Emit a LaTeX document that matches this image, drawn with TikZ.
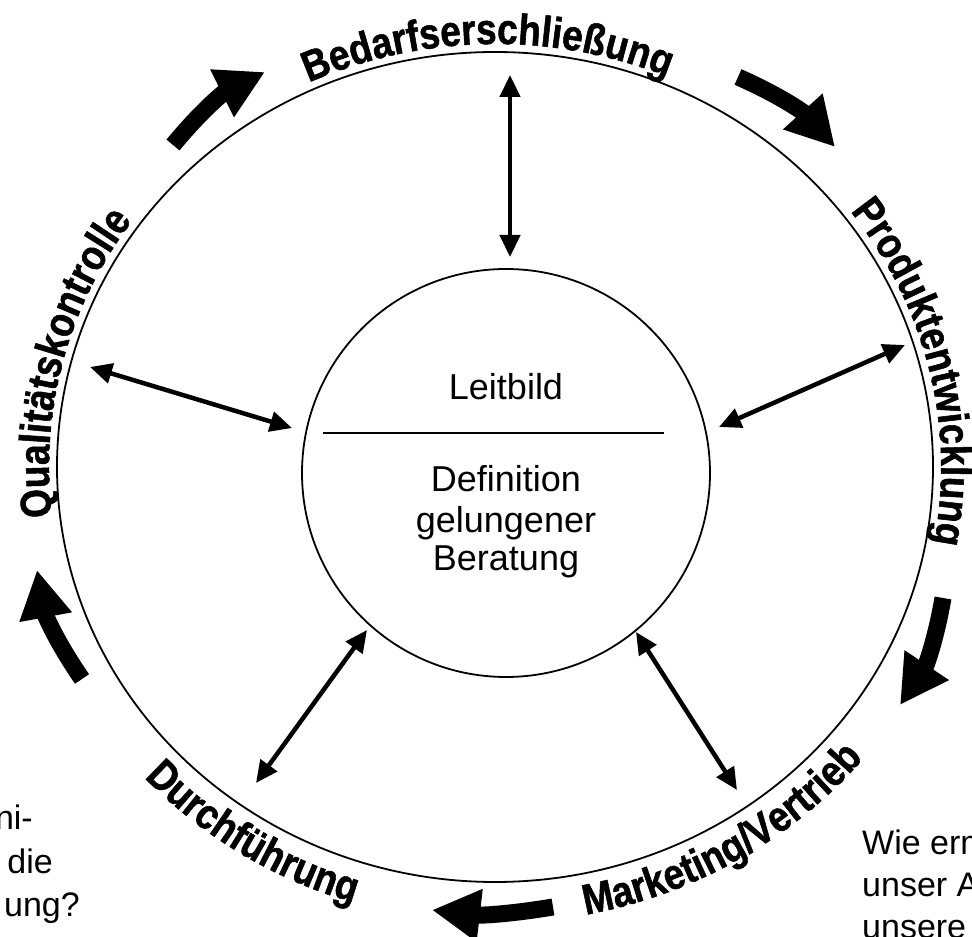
\documentclass[tikz,border=0pt]{standalone}
\usepackage{fontspec}
\setmainfont{Liberation Sans}
\newfontfamily\arcfont{Liberation Sans}[FakeStretch=0.86,FakeBold=1.2]
\usetikzlibrary{arrows.meta}
\usetikzlibrary{decorations.text}
\newcommand\arcstyle{\arcfont\bfseries\fontsize{43}{43}\selectfont}
\newcommand\phasetext[5]{\path[decorate,decoration={text along path,text align=center,text={|\arcstyle|#5}}] (495,470) ++(#1:#3 and #4) arc[start angle=#1,end angle=#2,x radius=#3,y radius=#4];}

\begin{document}
\begin{tikzpicture}[x=1pt,y=1pt,
  wechsel/.style={line width=4.5pt,{Triangle[length=22pt,width=20pt]}-{Triangle[length=22pt,width=20pt]}},
  lauf/.style={line width=17pt,-{Triangle[length=48pt,width=50pt]}},
  mitte/.style={font=\fontsize{36}{41}\selectfont,anchor=base,inner sep=0pt},
  frage/.style={font=\fontsize{34}{41}\selectfont,inner sep=0pt}]
\useasboundingbox (0,0) rectangle (972,937);
\clip (0,0) rectangle (972,937);
% ring and core
\draw[line width=1.8pt] (495,470) ellipse [x radius=438,y radius=415];
\draw[line width=1.8pt] (506,464) circle [radius=204];
\draw[line width=1.8pt] (323,504) -- (664,504);
\node[mitte] (leitbild) at (506,537) {Leitbild};
\node[mitte] (def1) at (506,445) {Definition};
\node[mitte] (def2) at (506,404) {gelungener};
\node[mitte] (def3) at (506,366) {Beratung};
% phases on the ring
\phasetext{151}{31}{446}{423}{Bedarfserschließung}
\phasetext{73}{-47}{446}{423}{Produktentwicklung}
\phasetext{-118.6}{1.4}{479}{456}{Marketing/Vertrieb}
\phasetext{-183}{-63}{479}{456}{Durchführung}
\phasetext{226}{106}{446}{423}{Qualitätskontrolle}
% links core <-> ring
\coordinate (bed-out) at (510,862);
\coordinate (bed-in) at (510,680);
\coordinate (qual-out) at (90,570);
\coordinate (qual-in) at (292,509);
\coordinate (prod-out) at (905,592);
\coordinate (prod-in) at (719,510);
\coordinate (durch-in) at (367,307);
\coordinate (durch-out) at (256,154);
\coordinate (mark-in) at (636,305);
\coordinate (mark-out) at (737,147);
\draw[wechsel] (bed-out) -- (bed-in);
\draw[wechsel] (qual-out) -- (qual-in);
\draw[wechsel] (prod-out) -- (prod-in);
\draw[wechsel] (durch-in) -- (durch-out);
\draw[wechsel] (mark-in) -- (mark-out);
% cycle arrows
\coordinate (a1) at (173,792);
\coordinate (b1) at (265,865);
\coordinate (a2) at (738,860);
\coordinate (b2) at (835,790);
\coordinate (a3) at (943,339);
\coordinate (b3) at (900,232);
\coordinate (a4) at (553,30);
\coordinate (b4) at (432,27);
\coordinate (a5) at (82,258);
\coordinate (b5) at (37,367);
\draw[lauf] (a1) to[bend left=12] (b1);
\draw[lauf] (a2) to[bend left=12] (b2);
\draw[lauf] (a3) to[bend left=12] (b3);
\draw[lauf] (a4) to[bend left=8] (b4);
\draw[lauf] (a5) to[bend left=12] (b5);
% questions cut at the margin
\node[frage,anchor=base east] (frage-l1) at (33,107) {ni-};
\node[frage,anchor=base east] (frage-l2) at (53,63) {die};
\node[frage,anchor=base east] (frage-l3) at (80,20) {ung?};
\node[frage,anchor=base west] (frage-r1) at (862,82) {Wie erm};
\node[frage,anchor=base west] (frage-r2) at (862,40) {unser A};
\node[frage,anchor=base west] (frage-r3) at (862,-2) {unsere};
\end{tikzpicture}
\end{document}
